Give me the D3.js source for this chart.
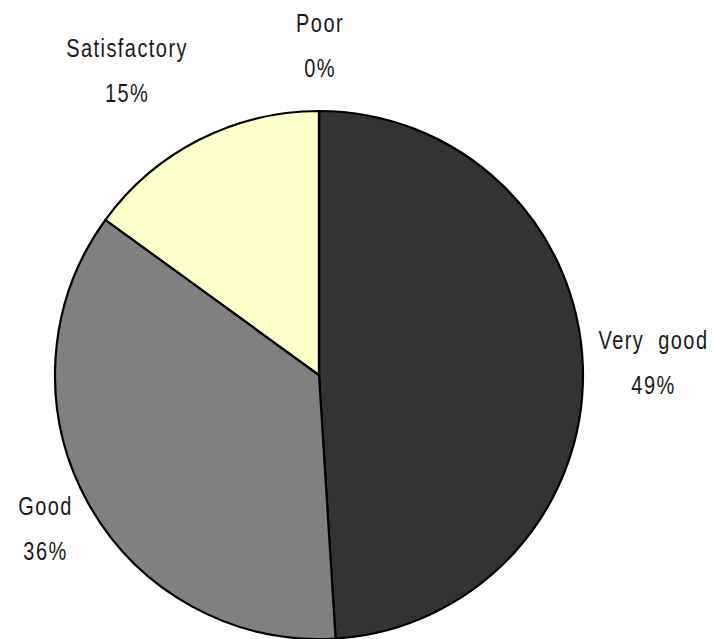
<!DOCTYPE html>
<html>
<head>
<meta charset="utf-8">
<script src="https://cdn.jsdelivr.net/npm/d3@7/dist/d3.min.js"></script>
<style>
  html, body { margin: 0; padding: 0; background: #ffffff; }
  svg { display: block; }
  .lbl { font-family: "Liberation Sans", Arial, sans-serif; font-size: 25px; fill: #1a1a1a; letter-spacing: 1.8px; }
</style>
</head>
<body>
<svg id="chart" width="713" height="639"></svg>
<script>
// Rating shares, drawn clockwise from 12 o'clock
const categories = ["Very good", "Good", "Satisfactory", "Poor"];
const values = [49, 36, 15, 0];
const sliceColors = ["#333333", "#808080", "#ffffcc", "#ffffff"];

// Label anchors, in multiples of the radius from the pie centre
const labelSpots = [[1.267, -0.045], [-1.036, 0.585], [-0.727, -1.153], [0.004, -1.248]];

const width = 713, height = 639;
const cx = 319, cy = 375, radius = 264;
const narrow = 0.8; // horizontal squeeze for a condensed label face

const svg = d3.select("#chart");
const g = svg.append("g").attr("transform", `translate(${cx},${cy})`);

const pie = d3.pie().sort(null).value(d => d.value).startAngle(0).endAngle(2 * Math.PI);
const arc = d3.arc().innerRadius(0).outerRadius(radius);

const rows = categories.map((c, i) => ({ category: c, value: values[i], color: sliceColors[i], spot: labelSpots[i] }));
const arcs = pie(rows);

g.selectAll("path.slice")
  .data(arcs)
  .join("path")
  .attr("class", "slice")
  .attr("d", arc)
  .attr("fill", d => d.data.color)
  .attr("stroke", "#000")
  .attr("stroke-width", 2.2)
  .attr("stroke-linejoin", "round");

const total = d3.sum(values);
const fmt = v => Math.round(v / total * 100) + "%";

const labels = g.selectAll("text.lbl")
  .data(arcs)
  .join("text")
  .attr("class", "lbl")
  .attr("text-anchor", "middle")
  .attr("transform", d => `translate(${d.data.spot[0] * radius},${d.data.spot[1] * radius}) scale(${narrow},1)`);

labels.append("tspan")
  .attr("x", 0)
  .attr("y", -14)
  .attr("xml:space", "preserve")
  .text(d => d.data.category === "Very good" ? "Very  good" : d.data.category);

labels.append("tspan")
  .attr("x", 0)
  .attr("y", 31)
  .text(d => fmt(d.data.value));
</script>
</body>
</html>
